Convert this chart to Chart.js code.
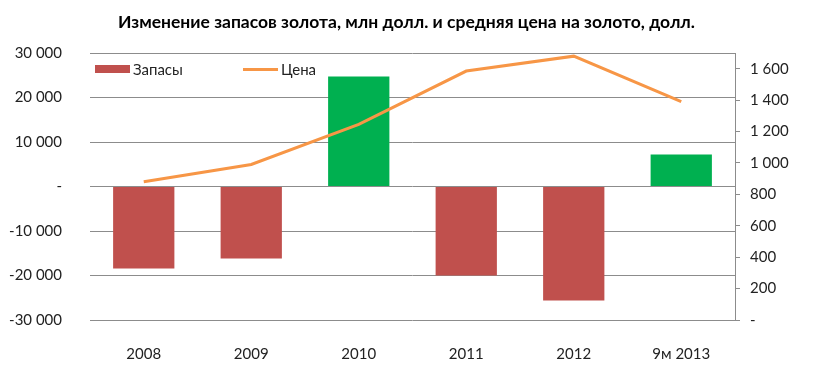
<!DOCTYPE html>
<html>
<head>
<meta charset="utf-8">
<script src="https://cdn.jsdelivr.net/npm/chart.js@4"></script>
<style>
  body { margin: 0; background: #fff; }
  #wrap { position: relative; width: 813px; height: 367px; }
  .legend { position: absolute; top: 60px; font-family: Lato, sans-serif; font-size: 15px; color: #222; display: flex; align-items: center; }
  .legend .box { width: 35px; height: 8px; background: #C0504D; margin-right: 3px; }
  .legend .line { width: 35px; height: 3px; background: #F79646; margin-right: 3px; }
</style>
</head>
<body>
<div id="wrap">
  <canvas id="chart-gold" width="813" height="367"></canvas>
  <div class="legend" style="left:95px"><span class="box"></span>Запасы</div>
  <div class="legend" style="left:243px"><span class="line"></span>Цена</div>
</div>
<script>
const years = ['2008', '2009', '2010', '2011', '2012', '9м 2013'];
const reserves = [-18400, -16200, 24700, -20000, -25600, 7200];
const prices = [880, 990, 1245, 1585, 1680, 1390];

const chartTitle = 'Изменение запасов золота, млн долл. и средняя цена на золото, долл.';
const gridColor = '#8c8c8c';

//Number with space separator, zero as dash
function fmt(v) {
    if (v === 0) return '-';
    let s = Math.abs(v).toString().replace(/\B(?=(\d{3})+(?!\d))/g, ' ');
    return (v < 0 ? '-' : '') + s;
}

const ctx = document.getElementById('chart-gold').getContext('2d');
const chartGold = new Chart(ctx, {
    data: {
        labels: years,
        datasets: [
            {
                type: 'line',
                label: 'Цена',
                data: prices,
                yAxisID: 'y1',
                borderColor: '#F79646',
                borderWidth: 3,
                pointRadius: 0,
                tension: 0,
                order: 0
            },
            {
                type: 'bar',
                label: 'Запасы',
                data: reserves,
                yAxisID: 'y',
                backgroundColor: reserves.map(v => v < 0 ? '#C0504D' : '#00B050'),
                categoryPercentage: 1,
                barPercentage: 0.57,
                order: 1
            }
        ]
    },
    options: {
        responsive: false,
        animation: false,
        plugins: {
            legend: { display: false },
            tooltip: { enabled: false },
            title: {
                display: true,
                text: chartTitle,
                color: '#000',
                font: { family: 'Lato', size: 17.5, weight: 'bold' },
                padding: { top: 12, bottom: 20 }
            }
        },
        scales: {
            x: {
                grid: { display: false },
                border: { display: false },
                ticks: {
                    color: '#222',
                    font: { family: 'Lato', size: 15 },
                    padding: 17
                },
                afterFit: function(scale) { scale.height = 47; }
            },
            y: {
                position: 'left',
                min: -30000,
                max: 30000,
                grid: { color: gridColor, drawTicks: false },
                border: { display: false },
                ticks: {
                    stepSize: 10000,
                    color: '#222',
                    font: { family: 'Lato', size: 15 },
                    padding: 28,
                    callback: v => fmt(v)
                },
                afterFit: function(scale) { scale.width = 90; }
            },
            y1: {
                position: 'right',
                min: 0,
                max: 1700,
                grid: { drawOnChartArea: false, color: gridColor, tickLength: 5 },
                border: { display: true, color: gridColor },
                ticks: {
                    stepSize: 200,
                    includeBounds: false,
                    color: '#222',
                    font: { family: 'Lato', size: 15 },
                    padding: 10,
                    callback: v => fmt(v)
                },
                afterBuildTicks: function(scale) {
                    scale.ticks = scale.ticks.filter(t => t.value <= 1600);
                },
                afterFit: function(scale) { scale.width = 78; }
            }
        }
    }
});
</script>
</body>
</html>
